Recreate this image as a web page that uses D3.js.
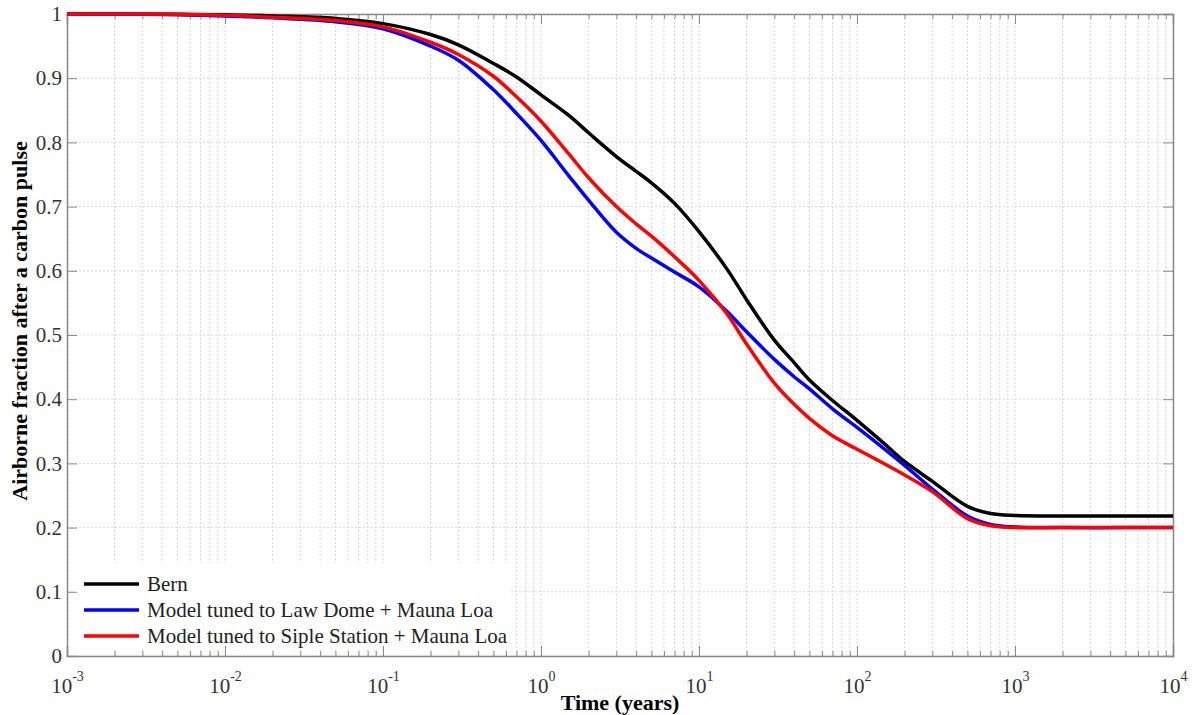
<!DOCTYPE html>
<html>
<head>
<meta charset="utf-8">
<script src="https://cdn.jsdelivr.net/npm/d3@7"></script>
<style>
  body { margin: 0; background: #fff; }
  svg { display: block; }
  .axis path, .axis line { stroke: #8a8a8a; }
  .axis text { font-family: 'Liberation Serif', 'DejaVu Serif', serif; fill: #333; }
  .grid line { stroke: #d8d8d8; stroke-dasharray: 2,2; }
</style>
</head>
<body>
<div id="chart"></div>
<script>
// time (years) sample points
const times = [0.001, 0.002, 0.005, 0.01, 0.02, 0.05, 0.1, 0.2, 0.3, 0.5, 0.7, 1, 1.5, 2, 3, 4, 5, 7, 10, 15, 20, 30, 40, 50, 70, 100, 150, 200, 300, 500, 700, 1000, 2000, 5000, 10000];

const bern = [1.0, 1.0, 0.9995, 0.999, 0.997, 0.993, 0.985, 0.968, 0.952, 0.923, 0.902, 0.874, 0.842, 0.815, 0.778, 0.755, 0.737, 0.705, 0.661, 0.603, 0.555, 0.492, 0.457, 0.43, 0.398, 0.367, 0.33, 0.303, 0.272, 0.233, 0.222, 0.219, 0.218, 0.218, 0.218];
const lawDome = [1.0, 1.0, 0.999, 0.997, 0.994, 0.988, 0.977, 0.95, 0.928, 0.882, 0.845, 0.803, 0.748, 0.71, 0.66, 0.635, 0.62, 0.598, 0.575, 0.537, 0.505, 0.462, 0.435, 0.416, 0.385, 0.356, 0.322, 0.297, 0.26, 0.218, 0.205, 0.201, 0.2, 0.2, 0.2];
const siple = [1.0, 1.0, 0.9995, 0.998, 0.995, 0.99, 0.98, 0.956, 0.937, 0.903, 0.871, 0.833, 0.782, 0.745, 0.7, 0.673, 0.654, 0.622, 0.585, 0.533, 0.486, 0.425, 0.392, 0.37, 0.343, 0.322, 0.299, 0.282, 0.256, 0.214, 0.203, 0.2, 0.2, 0.2, 0.2];

const seriesNames = ['Bern', 'Model tuned to Law Dome + Mauna Loa', 'Model tuned to Siple Station + Mauna Loa'];
const seriesValues = [bern, lawDome, siple];
const seriesColors = ['#000000', '#0000ff', '#ff0000'];

const xMajor = [1e-3, 1e-2, 1e-1, 1e0, 1e1, 1e2, 1e3, 1e4];
const yTicks = [0, 0.1, 0.2, 0.3, 0.4, 0.5, 0.6, 0.7, 0.8, 0.9, 1];

const width = 1195;
const height = 715;
const margin = { top: 14, right: 22, bottom: 59, left: 67 };
const innerW = width - margin.left - margin.right;
const innerH = height - margin.top - margin.bottom;
const serif = "'Liberation Serif', 'DejaVu Serif', serif";

const xMinor = [];
xMajor.slice(0, -1).forEach((d) => {
  for (let k = 2; k < 10; k += 1) xMinor.push(d * k);
});

const svg = d3.select('#chart').append('svg')
  .attr('width', width)
  .attr('height', height);

const g = svg.append('g').attr('transform', `translate(${margin.left},${margin.top})`);

const x = d3.scaleLog().domain([1e-3, 1e4]).range([0, innerW]);
const y = d3.scaleLinear().domain([0, 1]).range([innerH, 0]);

// grid
const grid = g.append('g').attr('class', 'grid');
grid.selectAll('.vg')
  .data(xMajor.concat(xMinor))
  .enter()
  .append('line')
  .attr('x1', d => x(d))
  .attr('x2', d => x(d))
  .attr('y1', 0)
  .attr('y2', innerH);
grid.selectAll('.hg')
  .data(yTicks)
  .enter()
  .append('line')
  .attr('x1', 0)
  .attr('x2', innerW)
  .attr('y1', d => y(d))
  .attr('y2', d => y(d));

// legend background hides grid
g.append('rect')
  .attr('x', 7)
  .attr('y', 549)
  .attr('width', 436)
  .attr('height', 86)
  .attr('fill', '#fff');

// axes
const supFormat = (d) => String(Math.round(Math.log10(d)));

const bottomAxis = g.append('g')
  .attr('class', 'axis')
  .attr('transform', `translate(0,${innerH})`)
  .call(d3.axisBottom(x).tickValues(xMajor).tickSize(-10).tickFormat(() => ''));
bottomAxis.selectAll('.tick text').each(function label(d) {
  const t = d3.select(this);
  t.text(null)
    .attr('font-size', 21)
    .attr('text-anchor', 'middle')
    .attr('y', 37)
    .attr('dy', null);
  t.append('tspan').text('10');
  t.append('tspan').attr('dy', -12).attr('font-size', 14).text(supFormat(d));
});

g.append('g')
  .attr('class', 'axis')
  .attr('transform', `translate(0,${innerH})`)
  .call(d3.axisBottom(x).tickValues(xMinor).tickSize(-5).tickFormat(() => ''))
  .select('.domain').remove();

g.append('g').attr('class', 'axis')
  .call(d3.axisTop(x).tickValues(xMajor).tickSize(-10).tickFormat(() => ''));
g.append('g').attr('class', 'axis')
  .call(d3.axisTop(x).tickValues(xMinor).tickSize(-5).tickFormat(() => ''))
  .select('.domain').remove();

g.append('g')
  .attr('class', 'axis')
  .call(d3.axisLeft(y).tickValues(yTicks).tickSize(-10).tickPadding(5).tickFormat(d => (d === 0 || d === 1 ? String(d) : d3.format('.1f')(d))))
  .selectAll('text')
  .attr('font-size', 21);

g.append('g')
  .attr('class', 'axis')
  .attr('transform', `translate(${innerW},0)`)
  .call(d3.axisRight(y).tickValues(yTicks).tickSize(-10).tickFormat(() => ''));

g.selectAll('.axis .domain').attr('stroke-width', 1.5);

// lines
const line = d3.line()
  .x((d, i) => x(times[i]))
  .y(d => y(d))
  .curve(d3.curveCatmullRom.alpha(0.5));

seriesValues.forEach((vals, i) => {
  g.append('path')
    .datum(vals)
    .attr('fill', 'none')
    .attr('stroke', seriesColors[i])
    .attr('stroke-width', 3.5)
    .attr('stroke-linejoin', 'round')
    .attr('d', line);
});

// legend
const legend = g.append('g').attr('transform', 'translate(17,570)');
seriesNames.forEach((name, i) => {
  const row = legend.append('g').attr('transform', `translate(0,${i * 26})`);
  row.append('line')
    .attr('x1', 0)
    .attr('x2', 55)
    .attr('stroke', seriesColors[i])
    .attr('stroke-width', 3.5);
  row.append('text')
    .attr('x', 63)
    .attr('dy', '0.35em')
    .attr('font-family', serif)
    .attr('font-size', 21)
    .attr('fill', '#222')
    .text(name);
});

// axis titles
svg.append('text')
  .attr('x', margin.left + innerW / 2)
  .attr('y', 710)
  .attr('text-anchor', 'middle')
  .attr('font-family', serif)
  .attr('font-weight', 'bold')
  .attr('font-size', 22)
  .text('Time (years)');

svg.append('text')
  .attr('transform', `translate(27,${margin.top + innerH / 2 - 14}) rotate(-90)`)
  .attr('text-anchor', 'middle')
  .attr('font-family', serif)
  .attr('font-weight', 'bold')
  .attr('font-size', 22)
  .text('Airborne fraction after a carbon pulse');
</script>
</body>
</html>
